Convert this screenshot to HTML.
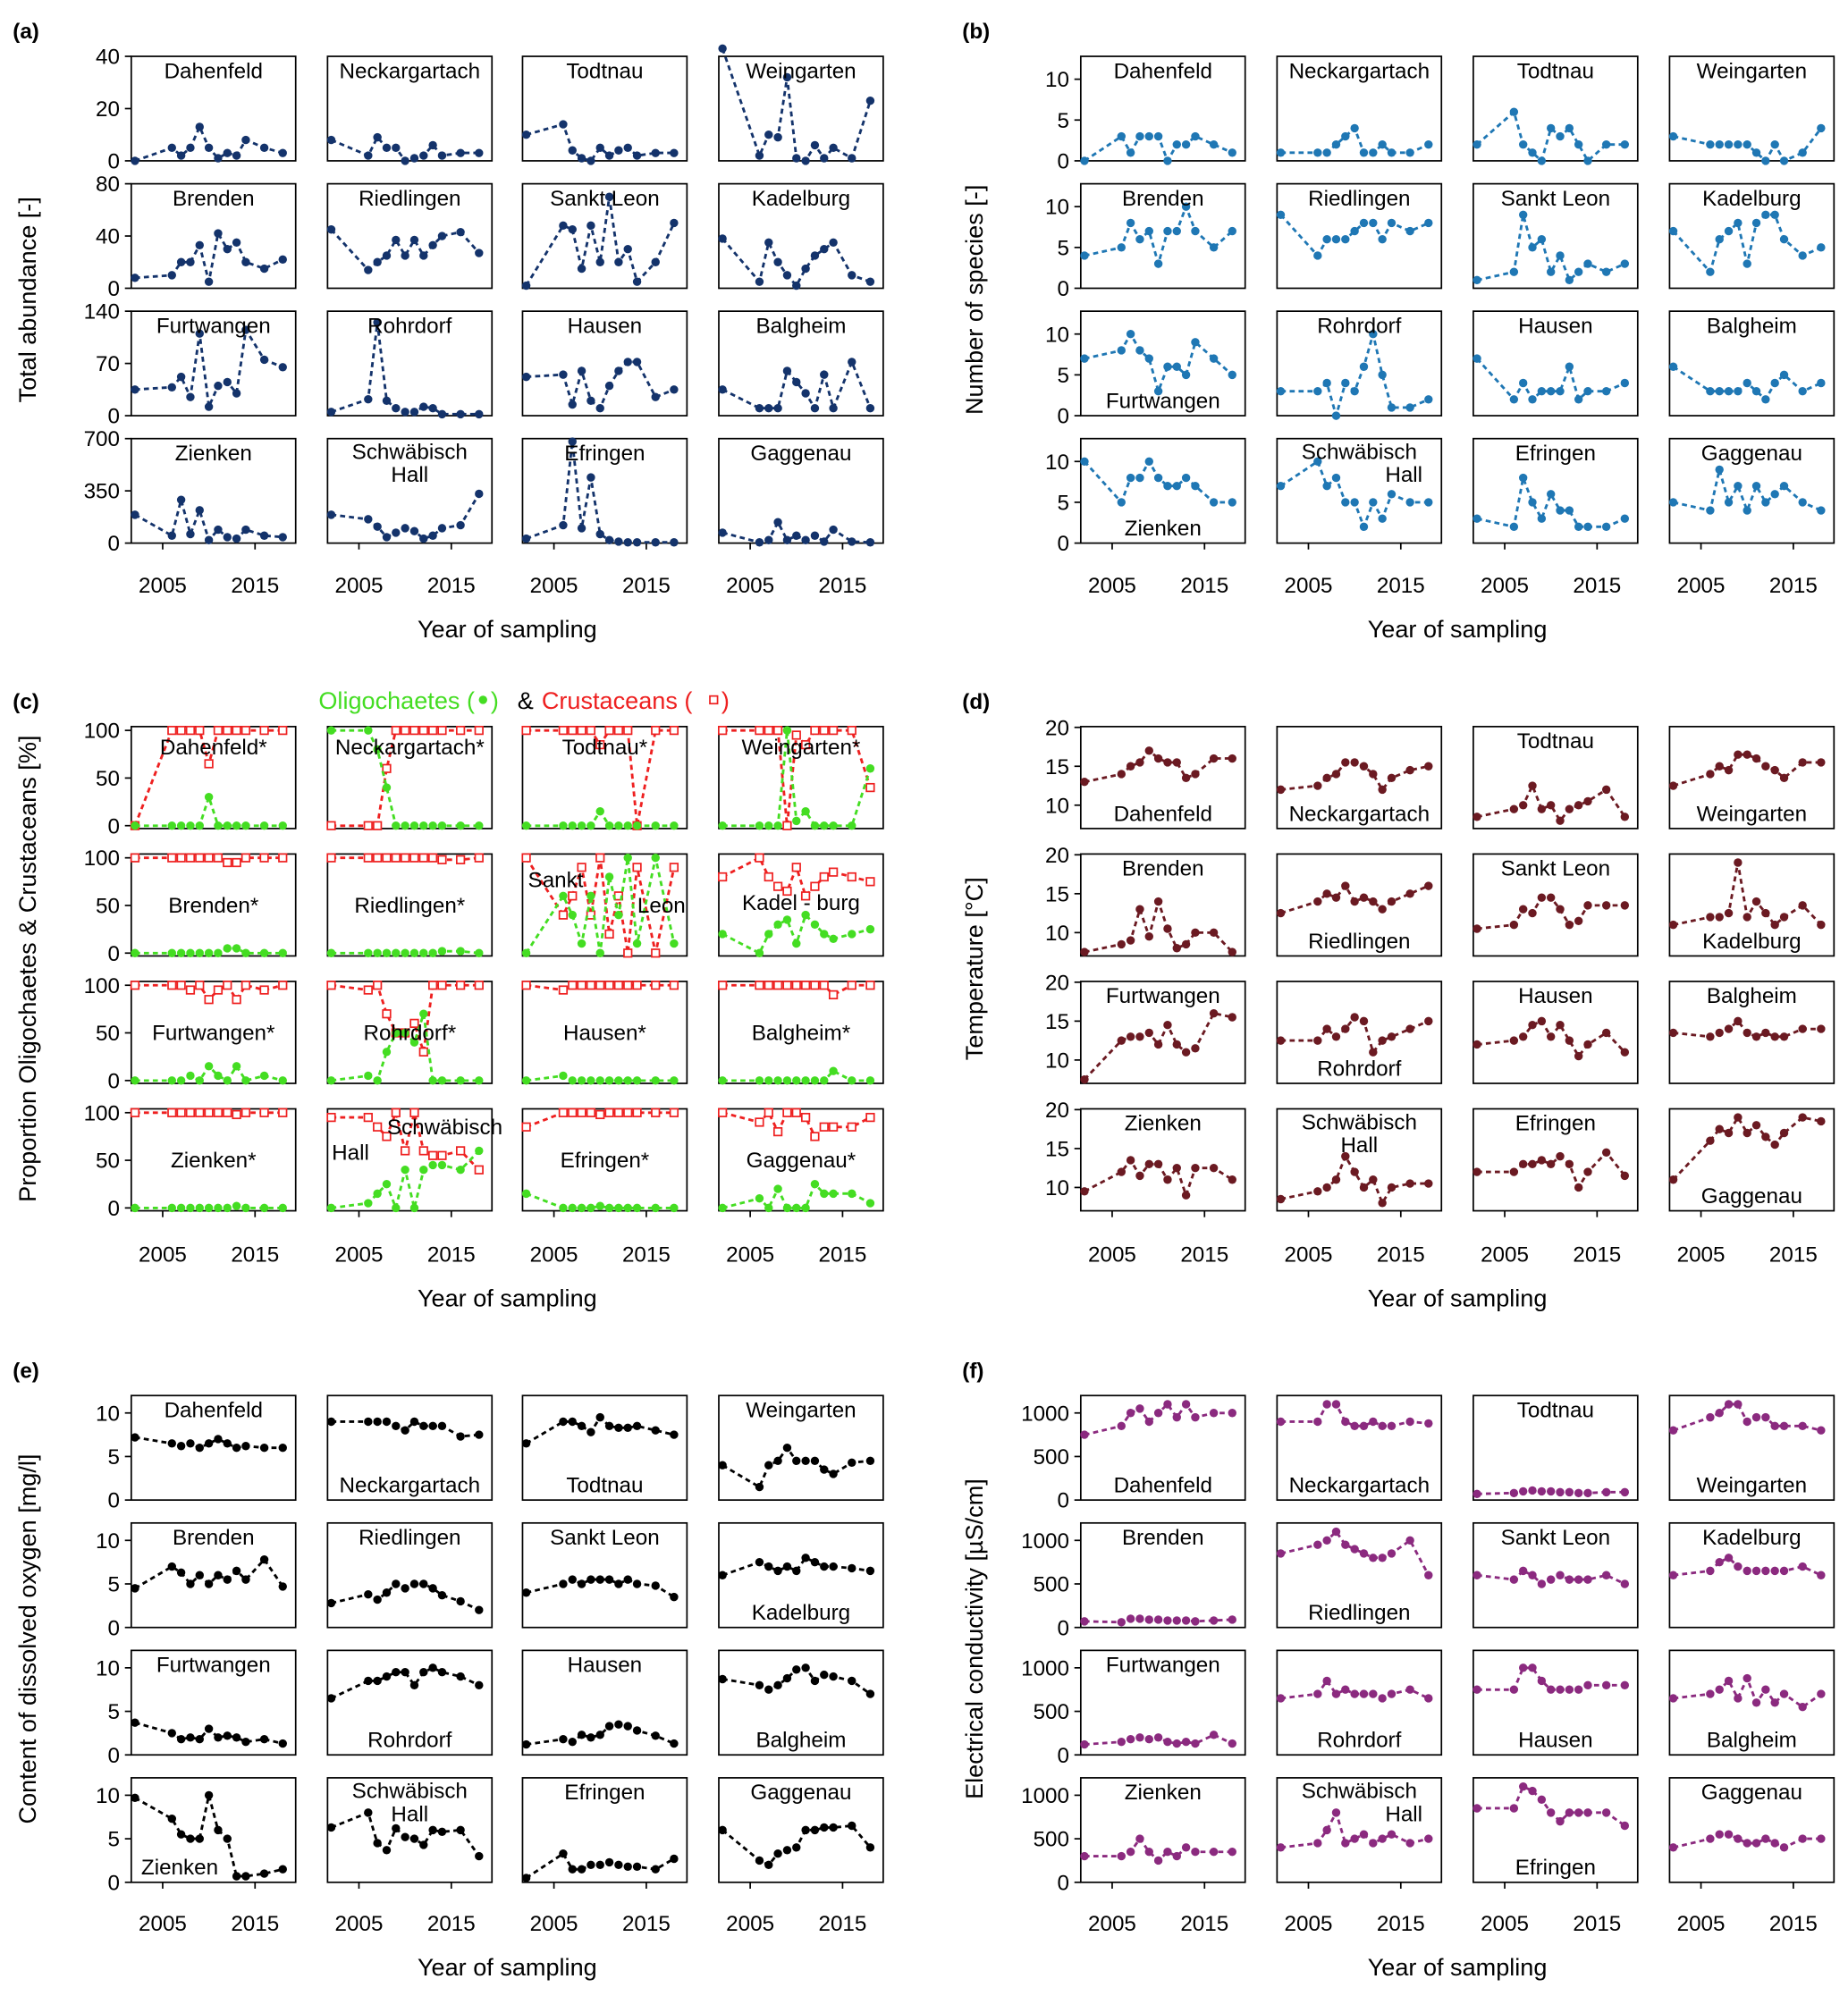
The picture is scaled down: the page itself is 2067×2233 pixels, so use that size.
<!DOCTYPE html>
<html><head><meta charset="utf-8"><style>
html,body{margin:0;padding:0;background:#fff}
svg{display:block;font-family:"Liberation Sans",sans-serif}
</style></head><body>
<svg id="fig" width="2067" height="2233" viewBox="0 0 1450 1566" xmlns="http://www.w3.org/2000/svg"></svg>
<script>
const years=[2002,2006,2007,2008,2009,2010,2011,2012,2013,2014,2016,2018];
const sites=["Dahenfeld","Neckargartach","Todtnau","Weingarten","Brenden","Riedlingen","Sankt Leon","Kadelburg","Furtwangen","Rohrdorf","Hausen","Balgheim","Zienken","Schwäbisch Hall","Efringen","Gaggenau"];
const xTickYears=[2005,2015];
const abundance=[[0,5,2,5,13,5,1,3,2,8,5,3],[8,2,9,5,5,0,1,2,6,2,3,3],[10,14,4,1,0,5,2,4,5,2,3,3],[43,2,10,9,32,1,0,6,1,5,1,23],
[8,10,20,20,33,5,42,30,35,20,15,22],[45,14,20,25,37,25,37,25,33,40,43,27],[2,48,45,15,48,20,70,20,30,5,20,50],[38,5,35,20,10,2,15,25,30,35,10,5],
[35,38,52,25,110,12,40,45,30,115,75,65],[5,22,125,20,10,5,5,12,10,2,2,2],[52,55,15,60,20,10,40,60,72,72,25,35],[35,10,10,10,60,45,30,10,55,10,72,10],
[190,50,290,60,220,20,90,40,30,90,50,40],[190,160,110,40,70,100,80,30,50,100,120,330],[30,120,680,100,440,60,20,10,5,5,5,5],[70,5,20,140,20,50,20,50,10,90,10,5]];
const species=[[0,3,1,3,3,3,0,2,2,3,2,1],[1,1,1,2,3,4,1,1,2,1,1,2],[2,6,2,1,0,4,3,4,2,0,2,2],[3,2,2,2,2,2,1,0,2,0,1,4],
[4,5,8,6,7,3,7,7,10,7,5,7],[9,4,6,6,6,7,8,8,6,8,7,8],[1,2,9,5,6,2,4,1,2,3,2,3],[7,2,6,7,8,3,8,9,9,6,4,5],
[7,8,10,8,7,3,6,6,5,9,7,5],[3,3,4,0,4,3,6,10,5,1,1,2],[7,2,4,2,3,3,3,6,2,3,3,4],[6,3,3,3,3,4,3,2,4,5,3,4],
[10,5,8,8,10,8,7,7,8,7,5,5],[7,10,7,8,5,5,2,5,3,6,5,5],[3,2,8,5,3,6,4,4,2,2,2,3],[5,4,9,5,7,4,7,5,6,7,5,4]];
const oligo=[[0,0,0,0,0,30,0,0,0,0,0,0],[100,100,80,40,0,0,0,0,0,0,0,0],[0,0,0,0,0,15,0,0,0,0,0,0],[0,0,0,0,100,5,15,0,0,0,0,60],
[0,0,0,0,0,0,0,5,5,0,0,0],[0,0,0,0,0,0,0,0,0,2,2,0],[0,60,40,10,60,0,80,40,100,10,100,10],[20,0,20,30,35,10,40,30,20,15,20,25],
[0,0,0,5,0,15,5,0,15,0,5,0],[0,5,0,30,50,50,40,70,0,0,0,0],[0,5,0,0,0,0,0,0,0,0,0,0],[0,0,0,0,0,0,0,0,0,10,0,0],
[0,0,0,0,0,0,0,0,2,0,0,0],[0,5,15,25,0,40,0,40,45,45,40,60],[15,0,0,0,0,2,0,0,0,0,0,0],[0,10,0,20,0,0,0,25,15,15,15,5]];
const crust=[[0,100,100,100,100,65,100,100,100,100,100,100],[0,0,0,60,100,100,100,100,100,100,100,100],[100,100,100,100,100,85,100,100,100,0,100,100],[100,100,100,100,0,95,85,100,100,100,100,40],
[100,100,100,100,100,100,100,95,95,100,100,100],[100,100,100,100,100,100,100,100,100,98,98,100],[100,40,60,90,40,100,20,60,0,90,0,90],[80,100,80,70,65,90,60,70,80,85,80,75],
[100,100,100,95,100,85,95,100,85,100,95,100],[100,95,100,70,50,50,60,30,100,100,100,100],[100,95,100,100,100,100,100,100,100,100,100,100],[100,100,100,100,100,100,100,100,100,90,100,100],
[100,100,100,100,100,100,100,100,98,100,100,100],[95,95,85,75,100,60,100,60,55,55,60,40],[85,100,100,100,100,98,100,100,100,100,100,100],[100,90,100,80,100,100,95,75,85,85,85,95]];
const temperature=[[13,14,15,15.5,17,16,15.5,15.5,13.5,14,16,16],[12,12.5,13.5,14,15.5,15.5,15,14,12,13.5,14.5,15],[8.5,9.5,10,12.5,9.5,10,8,9.5,10,10.5,12,8.5],[12.5,14,15,14.5,16.5,16.5,16,15,14.5,13.5,15.5,15.5],
[7.5,8.5,9,13,9.5,14,10.5,8,8.5,10,10,7.5],[12.5,14,15,14.5,16,14,14.5,14,13,14,15,16],[10.5,11,13,12.5,14.5,14.5,13,11,11.5,13.5,13.5,13.5],[11,12,12,12.5,19,12,14,12.5,11,12,13.5,11],
[7.5,12.5,13,13,13.5,12,14.5,12,11,11.5,16,15.5],[12.5,12.5,14,13,14,15.5,15,11,12.5,13,14,15],[12,12.5,13,14.5,15,13,14.5,12.5,10.5,12,13.5,11],[13.5,13,13.5,14,15,13.5,13,13.5,13,13,14,14],
[9.5,12,13.5,11.5,13,13,11,12.5,9,12.5,12.5,11],[8.5,9.5,10,11,14,12,10,11,8,10,10.5,10.5],[12,12,13,13,13.5,13,14,13,10,12,14.5,11.5],[11,16,17.5,17,19,17,18,16.5,15.5,17,19,18.5]];
const oxygen=[[7.2,6.5,6.2,6.5,6,6.5,7,6.5,6,6.2,6,6],[9,9,9,9,8.5,8,9,8.5,8.5,8.5,7.3,7.5],[6.5,9,9,8.5,7.8,9.5,8.5,8.3,8.3,8.5,8,7.5],[4,1.5,4,4.5,6,4.5,4.5,4.5,3.5,3,4.3,4.5],
[4.5,7,6.3,5,6,5,6,5.5,6.5,5.5,7.8,4.7],[2.8,3.8,3.2,4,5,4.5,5,5,4.5,3.7,3,2],[4,5,5.5,5,5.5,5.5,5.5,5,5.5,5,4.8,3.5],[6,7.5,7,6.5,7,6.5,8,7.5,7,7,6.8,6.5],
[3.7,2.5,1.8,2,1.8,3,2,2.2,2,1.5,1.8,1.3],[6.5,8.5,8.5,9,9.5,9.5,8,9.5,10,9.5,9,8],[1.2,1.8,1.5,2.3,2,2.3,3.3,3.5,3.3,2.8,2.2,1.3],[8.7,8,7.5,8,8.8,9.8,10,8.5,9.2,9,8.5,7],
[9.7,7.3,5.5,5,5,10,6,5,0.7,0.7,1,1.5],[6.3,8,4.5,3.7,6.2,5.2,5,4.3,6,5.8,6,3],[0.5,3.3,1.5,1.5,2,2,2.3,2,1.8,1.8,1.5,2.7],[6,2.5,2,3.3,3.7,4,6,6,6.3,6.3,6.5,4]];
const conductivity=[[750,850,1000,1050,900,1000,1100,950,1100,950,1000,1000],[900,900,1100,1100,900,850,850,900,850,850,900,880],[70,80,100,110,100,100,90,90,80,80,90,90],[800,950,1000,1100,1100,900,950,950,850,850,850,800],
[70,60,100,100,90,90,80,80,80,70,80,90],[850,950,1000,1100,950,900,850,800,800,850,1000,600],[600,550,650,600,500,550,600,550,550,550,600,500],[600,650,750,800,700,650,650,650,650,650,700,600],
[120,150,180,200,180,200,150,130,150,130,230,130],[650,700,850,700,750,700,700,700,650,700,750,650],[750,750,1000,1000,850,750,750,750,750,800,800,800],[650,700,750,850,650,880,600,750,600,700,550,700],
[300,300,350,500,350,250,350,300,400,350,350,350],[400,450,600,800,450,500,550,450,500,550,450,500],[850,850,1100,1050,950,800,700,800,800,800,800,650],[400,500,550,550,500,450,450,500,450,400,500,500]];

const NS="http://www.w3.org/2000/svg";
const svg=document.getElementById('fig');
function mk(tag,attrs,parent){const e=document.createElementNS(NS,tag);for(const k in attrs)e.setAttribute(k,attrs[k]);(parent||svg).appendChild(e);return e;}
function txt(s,x,y,size,anchor,parent,fill,weight){const t=mk('text',{x:x,y:y,'font-size':size,'text-anchor':anchor||'middle',fill:fill||'#000','font-weight':weight||'normal'},parent);t.textContent=s;return t;}

const colsL=[103,257,410,564], colsR=[848,1002,1156,1310];
const rowsTop1=[44,144,244,344], rowsTop2=[570,670,770,870], rowsTop3=[1095,1195,1295,1395];
const W=129;
const panels=[
 {id:'a',cols:colsL,rows:rowsTop1,h:82,dom:[[0,40],[0,80],[0,140],[0,700]],ticks:[[0,20,40],[0,40,80],[0,70,140],[0,350,700]],series:[{d:abundance,c:'#14336b'}],yl:'Total abundance [-]',ylx:22,yearY:465,xlY:500,
  lab:['t','t','t','t','t','t','t','t','t','t','t','t','t','t2','t','t']},
 {id:'b',cols:colsR,rows:rowsTop1,h:82,dom:[[0,12.8]],ticks:[[0,5,10]],series:[{d:species,c:'#1f77b4'}],yl:'Number of species [-]',ylx:765,yearY:465,xlY:500,
  lab:['t','t','t','t','t','t','t','t','b','t','t','t','b','t2','t','t']},
 {id:'c',cols:colsL,rows:rowsTop2,h:80,dom:[[-3,104]],ticks:[[0,50,100]],series:[{d:crust,c:'#ee2020',sq:true},{d:oligo,c:'#44dd22'}],yl:'Proportion Oligochaetes & Crustaceans [%]',ylx:22,yearY:990,xlY:1025,
  lab:['m','m','m','m','m','m','c6','c7','m','m','m','m','m','c13','m','m'],star:true},
 {id:'d',cols:colsR,rows:rowsTop2,h:80,dom:[[7,20.1]],ticks:[[10,15,20]],series:[{d:temperature,c:'#6b1a22'}],yl:'Temperature [°C]',ylx:765,yearY:990,xlY:1025,
  lab:['b','b','t','b','t','b','t','b','t','b','t','t','t','t2','t','b']},
 {id:'e',cols:colsL,rows:rowsTop3,h:82,dom:[[0,12]],ticks:[[0,5,10]],series:[{d:oxygen,c:'#000'}],yl:'Content of dissolved oxygen [mg/l]',ylx:22,yearY:1515,xlY:1550,
  lab:['t','b','b','t','t','t','t','b','t','b','t','b','bl','t2','t','t']},
 {id:'f',cols:colsR,rows:rowsTop3,h:82,dom:[[0,1200]],ticks:[[0,500,1000]],series:[{d:conductivity,c:'#8b2a7f'}],yl:'Electrical conductivity [µS/cm]',ylx:765,yearY:1515,xlY:1550,
  lab:['b','b','t','b','t','b','t','t','t','b','b','b','t','t2','b','t']}
];
const X0=2001.6,X1=2019.4;
function named(el,n){return el;}
panels.forEach(p=>{
  const g=mk('g',{});
  
  
  const pl=txt('('+p.id+')',p.cols[0]-93,p.rows[0]-14,17,'start',g,'#000','bold');
  
  
  for(let i=0;i<16;i++){
    const r=Math.floor(i/4),c=i%4;
    const x0=p.cols[c],y0=p.rows[r],h=p.h;
    const dom=p.dom[Math.min(r,p.dom.length-1)],tk=p.ticks[Math.min(r,p.ticks.length-1)];
    const sx=v=>x0+(v-X0)/(X1-X0)*W, sy=v=>y0+h-(v-dom[0])/(dom[1]-dom[0])*h;
    const sg=mk('g',{},g);
    
    
    const box=mk('rect',{x:x0,y:y0,width:W,height:h,fill:'none',stroke:'#000','stroke-width':1.2},sg);
    
    
    if(c===0){tk.forEach(v=>{const yy=sy(v);mk('line',{x1:x0-5,x2:x0,y1:yy,y2:yy,stroke:'#000','stroke-width':1.2},sg);
      const t=txt(String(v),x0-9,yy+6,17,'end',sg);
      
      });}
    if(r===3){xTickYears.forEach(yr=>{const xx=sx(yr);mk('line',{x1:xx,x2:xx,y1:y0+h,y2:y0+h+5,stroke:'#000','stroke-width':1.2},sg);
      const t=txt(String(yr),xx,p.yearY,17,'middle',sg);
      
      });}
    p.series.forEach(s=>{
      const vals=s.d[i];
      const pts=vals.map((v,k)=>sx(years[k]).toFixed(1)+','+sy(v).toFixed(1)).join(' ');
      const ln=mk('polyline',{points:pts,fill:'none',stroke:s.c,'stroke-width':2,'stroke-dasharray':'4,3'},sg);
      
      
      vals.forEach((v,k)=>{let m;
        if(s.sq){m=mk('rect',{x:sx(years[k])-3,y:sy(v)-3,width:6,height:6,fill:'#fff',stroke:s.c,'stroke-width':1.2},sg);}
        else{m=mk('circle',{cx:sx(years[k]),cy:sy(v),r:3.3,fill:s.c},sg);}
        
        });
    });
    const pos=p.lab[i];
    const cx=x0+W/2, nm=sites[i]+(p.star?'*':'');
    if(pos==='t2'){named(txt('Schwäbisch',cx,y0+16,17,'middle',sg),'site-label');named(txt('Hall',cx+(p.id==='b'||p.id==='f'?35:0),y0+34,17,'middle',sg),'site-label-line2');}
    else if(pos==='t')named(txt(nm,cx,y0+17,17,'middle',sg),'site-label');
    else if(pos==='b')named(txt(nm,cx,y0+h-6,17,'middle',sg),'site-label');
    else if(pos==='bl')named(txt(nm,x0+38,y0+h-6,17,'middle',sg),'site-label');
    else if(pos==='c6'){named(txt('Sankt',x0+26,y0+26,17,'middle',sg),'site-label');named(txt('Leon',x0+W-20,y0+46,17,'middle',sg),'site-label-line2');}
    else if(pos==='c7'){named(txt('Kadel - burg',cx,y0+44,17,'middle',sg),'site-label');}
    else if(pos==='c13'){named(txt('Schwäbisch',x0+W-37,y0+20,17,'middle',sg),'site-label');named(txt('Hall',x0+18,y0+40,17,'middle',sg),'site-label-line2');}
    else named(txt(nm,cx,y0+(r===0?22:46),17,'middle',sg),'site-label');
  }
  const midx=(p.cols[0]+p.cols[3]+W)/2;
  const xl=txt('Year of sampling',midx,p.xlY,19,'middle',g);
  
  
  const cy=(p.rows[0]+p.rows[3]+p.h)/2;
  const yl=txt(p.yl,p.ylx,cy+6,19,'middle',g);
  yl.setAttribute('transform','rotate(-90 '+p.ylx+' '+cy+')');
  
  
});
// legend for (c)
const lg=mk('g',{});


named(txt('Oligochaetes (',250,556,19,'start',lg,'#44dd22'),'legend-oligochaetes-label');
named(txt(')',385,556,19,'start',lg,'#44dd22'),'legend-paren');
named(txt('&',406,556,19,'start',lg,'#000'),'legend-ampersand');
named(txt('Crustaceans (',425,556,19,'start',lg,'#ee2020'),'legend-crustaceans-label');
named(txt(')',566,556,19,'start',lg,'#ee2020'),'legend-paren');
const ld=mk('circle',{cx:379,cy:549,r:3.3,fill:'#44dd22'},lg);


const lr=mk('rect',{x:557,y:546,width:6,height:6,fill:'#fff',stroke:'#ee2020','stroke-width':1.2},lg);


</script>
</body></html>
